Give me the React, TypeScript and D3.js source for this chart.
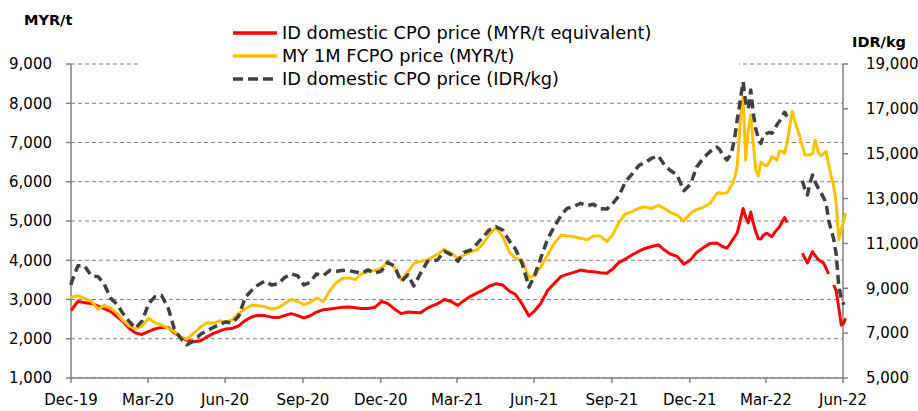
import React from "react";
import * as d3 from "d3";

// observation dates (weekly to Jan-22, every 3 days afterwards)
const dates = [
  "2019-12-31",
  "2020-01-01", "2020-01-08", "2020-01-16", "2020-01-24",
  "2020-02-01", "2020-02-08", "2020-02-16", "2020-02-24",
  "2020-03-01", "2020-03-08", "2020-03-16", "2020-03-24",
  "2020-04-01", "2020-04-08", "2020-04-16", "2020-04-24",
  "2020-05-01", "2020-05-08", "2020-05-16", "2020-05-24",
  "2020-06-01", "2020-06-08", "2020-06-16", "2020-06-24",
  "2020-07-01", "2020-07-08", "2020-07-16", "2020-07-24",
  "2020-08-01", "2020-08-08", "2020-08-16", "2020-08-24",
  "2020-09-01", "2020-09-08", "2020-09-16", "2020-09-24",
  "2020-10-01", "2020-10-08", "2020-10-16", "2020-10-24",
  "2020-11-01", "2020-11-08", "2020-11-16", "2020-11-24",
  "2020-12-01", "2020-12-08", "2020-12-16", "2020-12-24",
  "2021-01-01", "2021-01-08", "2021-01-16", "2021-01-24",
  "2021-02-01", "2021-02-08", "2021-02-16", "2021-02-24",
  "2021-03-01", "2021-03-08", "2021-03-16", "2021-03-24",
  "2021-04-01", "2021-04-08", "2021-04-16", "2021-04-24",
  "2021-05-01", "2021-05-08", "2021-05-16", "2021-05-24",
  "2021-06-01", "2021-06-08", "2021-06-16", "2021-06-24",
  "2021-07-01", "2021-07-08", "2021-07-16", "2021-07-24",
  "2021-08-01", "2021-08-08", "2021-08-16", "2021-08-24",
  "2021-09-01", "2021-09-08", "2021-09-16", "2021-09-24",
  "2021-10-01", "2021-10-08", "2021-10-16", "2021-10-24",
  "2021-11-01", "2021-11-08", "2021-11-16", "2021-11-24",
  "2021-12-01", "2021-12-08", "2021-12-16", "2021-12-24",
  "2022-01-01", "2022-01-08", "2022-01-16", "2022-01-24",
  "2022-02-01", "2022-02-04", "2022-02-07", "2022-02-10", "2022-02-13", "2022-02-16", "2022-02-19", "2022-02-22", "2022-02-25", "2022-02-28",
  "2022-03-01", "2022-03-04", "2022-03-07", "2022-03-10", "2022-03-13", "2022-03-16", "2022-03-19", "2022-03-22", "2022-03-25", "2022-03-28",
  "2022-04-01", "2022-04-04", "2022-04-07", "2022-04-10", "2022-04-13", "2022-04-16", "2022-04-19", "2022-04-22", "2022-04-25", "2022-04-28",
  "2022-05-01", "2022-05-04", "2022-05-07", "2022-05-10", "2022-05-13", "2022-05-16", "2022-05-19", "2022-05-22", "2022-05-25", "2022-05-28",
  "2022-06-01", "2022-06-04", "2022-06-07", "2022-06-10", "2022-06-13", "2022-06-16", "2022-06-19", "2022-06-22", "2022-06-25", "2022-06-28",
  "2022-07-01", "2022-07-03",
];

// ID domestic CPO price, MYR/t equivalent (left axis)
const idCpoMyr = [
  2730,
  2740, 2950, 2920, 2900,
  2830, 2770, 2690, 2550,
  2440, 2280, 2150, 2110,
  2190, 2250, 2290, 2280,
  2150, 2050, 1960, 1925,
  1950, 2040, 2130, 2200,
  2250, 2260, 2330, 2470,
  2560, 2600, 2590, 2550,
  2540, 2590, 2640, 2590,
  2530, 2580, 2680, 2740,
  2760, 2780, 2800, 2810,
  2790, 2770, 2770, 2800,
  2950, 2900, 2760, 2640,
  2680, 2670, 2660, 2780,
  2830, 2890, 3000, 2950,
  2850, 2970, 3080, 3170,
  3240, 3340, 3400, 3370,
  3210, 3130, 2880, 2580,
  2720, 2900, 3230, 3410,
  3590, 3640, 3690, 3750,
  3720, 3710, 3680, 3670,
  3780, 3940, 4030, 4140,
  4230, 4300, 4350, 4390,
  4260, 4160, 4100, 3900,
  4010, 4200, 4320, 4430,
  4440, 4400, 4360, 4330, 4310, 4400, 4500, 4600, 4700, 4950,
  5050, 5320, 5100, 4950, 5230, 4950, 4720, 4550, 4540, 4640,
  4690, 4640, 4600, 4700, 4780, 4850, 4980, 5090, 4960, null,
  null, null, null, null, 4180, 4050, 3930, 4080, 4220, 4120,
  4010, 3970, 3930, 3800, 3650, null, 3370, 3220, 2780, 2350,
  2400, 2520,
];

// MY 1M FCPO price, MYR/t (left axis)
const fcpoMyr = [
  3020,
  3060, 3100, 3030, 2960,
  2750, 2850, 2780, 2640,
  2470, 2340, 2250, 2330,
  2520, 2410, 2350, 2260,
  2190, 2050, 1990, 2140,
  2300, 2400, 2400, 2460,
  2430, 2480, 2640, 2770,
  2860, 2840, 2820, 2760,
  2790, 2890, 3000, 2950,
  2870, 2920, 3040, 2950,
  3230, 3420, 3540, 3550,
  3510, 3650, 3710, 3740,
  3800, 3950, 3820, 3500,
  3700, 3920, 3970, 4010,
  4070, 4150, 4280, 4180,
  4050, 4130, 4210, 4270,
  4430, 4650, 4830, 4600,
  4200, 4050, 4000, 3560,
  3620, 3830, 4130, 4430,
  4640, 4620, 4600, 4560,
  4520, 4620, 4620, 4480,
  4650, 4950, 5180, 5240,
  5330, 5360, 5320, 5400,
  5320, 5220, 5150, 5000,
  5200, 5290, 5350, 5450,
  5700, 5720, 5700, 5710, 5720, 5830, 5930, 6100, 6400, 7300,
  7700, 8160, 6550, 7300, 7700, 6980, 6300, 6150, 6500, 6450,
  6400, 6500, 6640, 6600, 6550, 6780, 6780, 6720, 6990, 7400,
  7790, 7550, 7350, 7150, 6900, 6690, 6680, 6680, 6720, 7060,
  6750, 6660, 6720, 6770, 6450, 6150, 5900, 5450, 4520, 4800,
  5000, 5200,
];

// ID domestic CPO price, IDR/kg (right axis)
const idCpoIdr = [
  9150,
  9300, 10000, 10000, 9560,
  9520, 9200, 8550, 8260,
  7900, 7560, 7215, 7550,
  8330, 8620, 8680, 8100,
  7200, 6800, 6480, 6650,
  6950, 7100, 7250, 7400,
  7500, 7450, 7750, 8600,
  8930, 9150, 9320, 9150,
  9200, 9470, 9650, 9550,
  9150, 9250, 9640, 9560,
  9800, 9750, 9800, 9780,
  9730, 9670, 9820, 9670,
  9780, 10150, 10000, 9300,
  9600, 9100, 9670, 10190,
  10220, 10260, 10650, 10500,
  10200, 10600, 10700, 11000,
  11300, 11600, 11740, 11600,
  11100, 10750, 10100, 9050,
  9600, 10350, 11200, 11750,
  12250, 12560, 12650, 12790,
  12680, 12750, 12550, 12530,
  12780, 13100, 13750, 14100,
  14480, 14600, 14800, 14900,
  14500, 14250, 14050, 13350,
  13650, 14400, 14800, 15100,
  15300, 15200, 15000, 14850, 14720, 14900, 15170, 15700, 16500, 17200,
  17500, 18200, 17300, 17000, 17840, 16800, 16100, 15700, 15460, 15800,
  15910, 15950, 15910, 16050, 16300, 16450, 16650, 16850, 16650, null,
  null, null, null, null, 13800, 13400, 13160, 13700, 14050, 13750,
  13450, 13250, 13050, 12800, 12040, 11600, 11200, 10500, 9100, 8550,
  8260, null,
];

const myrTicks = [1000, 2000, 3000, 4000, 5000, 6000, 7000, 8000, 9000];
const idrTicks = [5000, 7000, 9000, 11000, 13000, 15000, 17000, 19000];
const xTickDates = [
  "2019-12-31", "2020-03-31", "2020-06-30", "2020-09-30", "2020-12-31", "2021-03-31",
  "2021-06-30", "2021-09-30", "2021-12-31", "2022-03-31", "2022-06-30",
];
const xTickLabels = [
  "Dec-19", "Mar-20", "Jun-20", "Sep-20", "Dec-20", "Mar-21",
  "Jun-21", "Sep-21", "Dec-21", "Mar-22", "Jun-22",
];
const legendLabels = [
  "ID domestic CPO price (MYR/t equivalent)",
  "MY 1M FCPO price (MYR/t)",
  "ID domestic CPO price (IDR/kg)",
];

const W = 918;
const H = 411;
const left = 71;
const right = 843;
const top = 64;
const bottom = 378;
const font = "DejaVu Sans, Verdana, sans-serif";
const red = "#ff0000";
const gold = "#ffc000";
const grey = "#404040";
const axisGrey = "#808080";

const parse = d3.timeParse("%Y-%m-%d");

const x = d3
  .scaleTime()
  .domain([parse("2019-12-31")!, parse("2022-06-30")!])
  .range([left, right]);
const yL = d3.scaleLinear().domain([1000, 9000]).range([bottom, top]);
const yR = d3.scaleLinear().domain([5000, 19000]).range([bottom, top]);

type Pt = { d: Date; v: number | null };
const toPts = (vals: (number | null)[]): Pt[] =>
  dates.map((s, i) => ({ d: parse(s)!, v: vals[i] }));

const lineFor = (scale: d3.ScaleLinear<number, number>) =>
  d3
    .line<Pt>()
    .defined((p) => p.v != null)
    .x((p) => x(p.d))
    .y((p) => scale(p.v as number));

const App = () => {
  const redPath = lineFor(yL)(toPts(idCpoMyr)) || "";
  const goldPath = lineFor(yL)(toPts(fcpoMyr)) || "";
  const greyPath = lineFor(yR)(toPts(idCpoIdr)) || "";

  const legendColors = [red, gold, grey];

  return (
    <svg
      width={W}
      height={H}
      style={{ position: "absolute", left: 0, top: 0, background: "#fff" }}
      fontFamily={font}
    >
      {/* gridlines */}
      {myrTicks.map((t) => (
        <line
          key={"g" + t}
          x1={left}
          x2={right}
          y1={yL(t)}
          y2={yL(t)}
          stroke={axisGrey}
          strokeWidth={1}
          strokeDasharray="4 3"
        />
      ))}

      {/* legend box hides gridline */}
      <rect x={141} y={14} width={598} height={80} fill="#fff" />

      {/* axes */}
      <line x1={left} x2={left} y1={top} y2={bottom} stroke={axisGrey} strokeWidth={1.5} />
      <line x1={right} x2={right} y1={top} y2={bottom} stroke={axisGrey} strokeWidth={1.5} />
      <line x1={left} x2={right} y1={bottom} y2={bottom} stroke={axisGrey} strokeWidth={1.5} />

      {myrTicks.map((t) => (
        <g key={"l" + t}>
          <line x1={left - 5} x2={left} y1={yL(t)} y2={yL(t)} stroke={axisGrey} strokeWidth={1.5} />
          <text x={52} y={yL(t)} dy="0.35em" textAnchor="end" fontSize={15} fill="#000">
            {d3.format(",")(t)}
          </text>
        </g>
      ))}

      {idrTicks.map((t) => (
        <g key={"r" + t}>
          <line x1={right} x2={right + 5} y1={yR(t)} y2={yR(t)} stroke={axisGrey} strokeWidth={1.5} />
          <text x={866} y={yR(t)} dy="0.35em" textAnchor="start" fontSize={15} fill="#000">
            {d3.format(",")(t)}
          </text>
        </g>
      ))}

      {xTickDates.map((s, i) => {
        const px = x(parse(s)!);
        return (
          <g key={s}>
            <line x1={px} x2={px} y1={bottom} y2={bottom + 5} stroke={axisGrey} strokeWidth={1.5} />
            <text x={px} y={405} textAnchor="middle" fontSize={15} fill="#000">
              {xTickLabels[i]}
            </text>
          </g>
        );
      })}

      <text x={24} y={25} fontSize={14.5} fontWeight="bold" fill="#000">
        MYR/t
      </text>
      <text x={852} y={47} fontSize={14.5} fontWeight="bold" fill="#000">
        IDR/kg
      </text>

      {/* series */}
      <path d={redPath} fill="none" stroke={red} strokeWidth={3} strokeLinejoin="round" />
      <path d={goldPath} fill="none" stroke={gold} strokeWidth={3} strokeLinejoin="round" />
      <path
        d={greyPath}
        fill="none"
        stroke={grey}
        strokeWidth={3.5}
        strokeDasharray="9 5"
        strokeLinejoin="round"
      />

      {/* legend */}
      {legendLabels.map((lab, i) => (
        <g key={lab} transform={`translate(0,${33 + i * 23})`}>
          <line
            x1={233}
            x2={277}
            y1={0}
            y2={0}
            stroke={legendColors[i]}
            strokeWidth={3.5}
            strokeDasharray={i === 2 ? "10 5" : undefined}
          />
          <text x={282} y={0} dy="0.35em" fontSize={17.8} fill="#000">
            {lab}
          </text>
        </g>
      ))}
    </svg>
  );
};

export default App;
